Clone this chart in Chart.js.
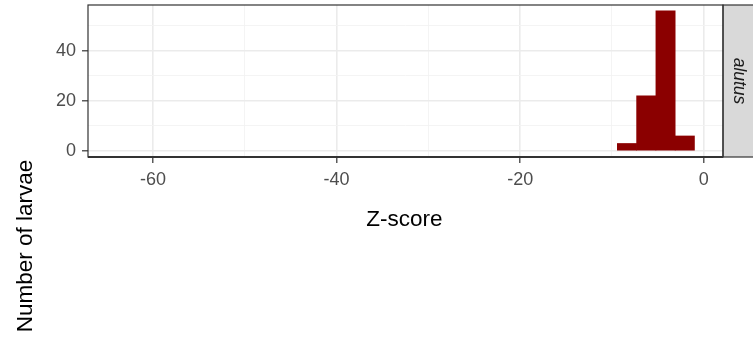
<!DOCTYPE html>
<html>
<head>
<meta charset="utf-8">
<script src="https://cdn.jsdelivr.net/npm/chart.js@4/dist/chart.umd.min.js"></script>
<style>
  html, body { margin: 0; padding: 0; background: #ffffff; }
  #wrap { width: 753px; height: 339px; }
</style>
</head>
<body>
<div id="wrap"><canvas id="c" width="753" height="339"></canvas></div>
<script>
// Histogram of Z-scores for the "alutus" facet
const binCenters = [-8.36, -6.26, -4.16, -2.06];
const larvaeCounts = [3, 22, 56, 6];
const xMajorTicks = [-60, -40, -20, 0];
const yMajorTicks = [0, 20, 40];
const facetLabel = 'alutus';
const xTitle = 'Z-score';
const yTitle = 'Number of larvae';

const FONT = '"Liberation Sans", Arial, sans-serif';
const isMajor = (list, v) => v !== undefined && list.some(m => Math.abs(m - v) < 1e-6);
const tickVal = c => (c && c.tick) ? c.tick.value : undefined;

// panel border, strip and axis titles
const decorations = {
  id: 'decorations',
  afterDraw(chart) {
    const { ctx, chartArea: a } = chart;
    ctx.save();
    // facet strip on the right
    ctx.fillStyle = '#D9D9D9';
    ctx.fillRect(a.right, a.top, 40, a.bottom - a.top);
    ctx.strokeStyle = '#333333';
    ctx.lineWidth = 1.2;
    ctx.strokeRect(a.right, a.top, 40, a.bottom - a.top);
    // panel border
    ctx.strokeRect(a.left, a.top, a.right - a.left, a.bottom - a.top);
    // bottom axis line
    ctx.lineWidth = 2.2;
    ctx.beginPath();
    ctx.moveTo(a.left, a.bottom);
    ctx.lineTo(a.right, a.bottom);
    ctx.stroke();

    // strip text
    ctx.fillStyle = '#1A1A1A';
    ctx.font = 'italic 17.5px ' + FONT;
    ctx.textAlign = 'center';
    ctx.textBaseline = 'middle';
    ctx.translate(a.right + 16, (a.top + a.bottom) / 2);
    ctx.rotate(Math.PI / 2);
    ctx.fillText(facetLabel, 0, 0);
    ctx.restore();

    ctx.save();
    ctx.fillStyle = '#000000';
    ctx.font = '22.5px ' + FONT;
    ctx.textAlign = 'center';
    ctx.textBaseline = 'alphabetic';
    ctx.fillText(xTitle, 404.5, 226);
    ctx.translate(32, 246);
    ctx.rotate(-Math.PI / 2);
    ctx.fillText(yTitle, 0, 0);
    ctx.restore();
  }
};

const noPad = s => { s.paddingTop = 0; s.paddingBottom = 0; s.paddingLeft = 0; s.paddingRight = 0; };

new Chart(document.getElementById('c'), {
  type: 'bar',
  data: {
    datasets: [{
      data: binCenters.map((x, i) => ({ x: x, y: larvaeCounts[i] })),
      backgroundColor: '#8B0000',
      borderWidth: 0,
      barPercentage: 1,
      categoryPercentage: 1,
      grouped: false
    }]
  },
  options: {
    responsive: false,
    animation: false,
    devicePixelRatio: 1,
    layout: { padding: { left: 0, right: 30, top: 5, bottom: 0 } },
    plugins: { legend: { display: false }, tooltip: { enabled: false } },
    scales: {
      x: {
        type: 'linear',
        min: -67.08,
        max: 2.1,
        offset: false,
        border: { display: false },
        grid: {
          offset: false,
          color: c => isMajor(xMajorTicks, tickVal(c)) ? '#EBEBEB' : '#F3F3F3',
          lineWidth: c => isMajor(xMajorTicks, tickVal(c)) ? 1.6 : 0.9,
          tickColor: c => isMajor(xMajorTicks, tickVal(c)) ? '#333333' : 'rgba(0,0,0,0)',
          tickWidth: 1.2,
          tickLength: 6
        },
        ticks: {
          stepSize: 10,
          includeBounds: false,
          autoSkip: false,
          maxRotation: 0,
          padding: 6,
          color: '#4D4D4D',
          font: { family: FONT, size: 18 },
          callback: v => isMajor(xMajorTicks, v) ? String(Math.round(v)) : ''
        },
        afterFit: s => { s.height = 182; noPad(s); }
      },
      y: {
        min: -2.4,
        max: 58.3,
        border: { display: false },
        grid: {
          offset: false,
          color: c => isMajor(yMajorTicks, tickVal(c)) ? '#EBEBEB' : '#F3F3F3',
          lineWidth: c => isMajor(yMajorTicks, tickVal(c)) ? 1.6 : 0.9,
          tickColor: c => isMajor(yMajorTicks, tickVal(c)) ? '#333333' : 'rgba(0,0,0,0)',
          tickWidth: 1.2,
          tickLength: 6
        },
        ticks: {
          stepSize: 10,
          includeBounds: false,
          autoSkip: false,
          padding: 6,
          color: '#4D4D4D',
          font: { family: FONT, size: 18 },
          callback: v => isMajor(yMajorTicks, v) ? String(Math.round(v)) : ''
        },
        afterFit: s => { s.width = 88; noPad(s); }
      }
    }
  },
  plugins: [decorations]
});
</script>
</body>
</html>
